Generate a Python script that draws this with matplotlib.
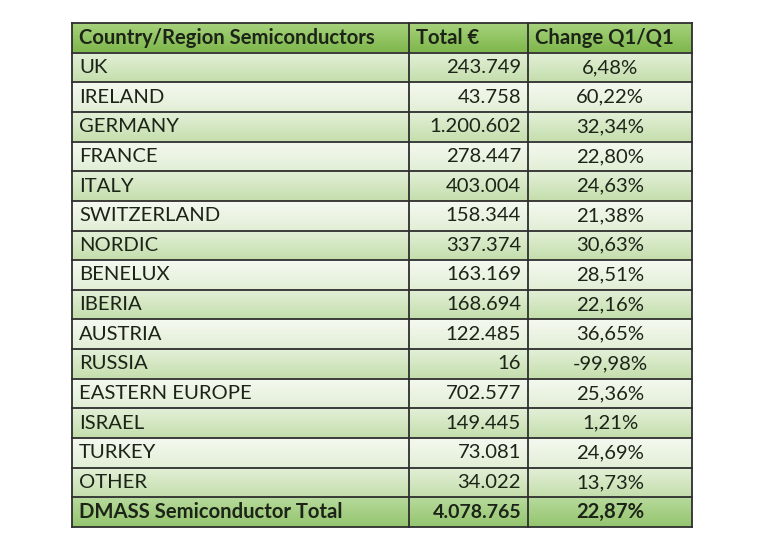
import matplotlib
matplotlib.use("Agg")
import matplotlib.pyplot as plt
import numpy as np
from matplotlib.colors import LinearSegmentedColormap

# ---- data ----
header = ["Country/Region Semiconductors", "Total €", "Change Q1/Q1"]
regions = ["UK", "IRELAND", "GERMANY", "FRANCE", "ITALY", "SWITZERLAND", "NORDIC",
           "BENELUX", "IBERIA", "AUSTRIA", "RUSSIA", "EASTERN EUROPE", "ISRAEL",
           "TURKEY", "OTHER"]
totals = [243749, 43758, 1200602, 278447, 403004, 158344, 337374, 163169,
          168694, 122485, 16, 702577, 149445, 73081, 34022]
changes = [6.48, 60.22, 32.34, 22.80, 24.63, 21.38, 30.63, 28.51, 22.16,
           36.65, -99.98, 25.36, 1.21, 24.69, 13.73]
total_label = "DMASS Semiconductor Total"
grand_total = 4078765
grand_change = 22.87


def fmt_num(v):
    return f"{v:,}".replace(",", ".")


def fmt_pct(v):
    return f"{v:.2f}%".replace(".", ",")


# ---- layout (pixels) ----
W, H = 768, 549
col_edges = [72, 409, 528, 692]
top, bottom = 23, 527
nrows = len(regions) + 2
row_h = (bottom - top) / nrows
pad = 7

plt.rcParams['font.family'] = ['Lato', 'DejaVu Sans']
fig = plt.figure(figsize=(W / 100, H / 100), dpi=100)
ax = fig.add_axes([0, 0, 1, 1])
ax.set_xlim(0, W)
ax.set_ylim(H, 0)
ax.axis("off")

grad = np.linspace(0, 1, 64).reshape(-1, 1)
styles = {
    "header": ("#a6d27c", "#7db64a"),
    "odd": ("#e3f0d8", "#c4deac"),
    "even": ("#f5f9f0", "#e2eed6"),
    "total": ("#b7da9c", "#94c56e"),
}


def fill_row(y0, kind):
    c0, c1 = styles[kind]
    cmap = LinearSegmentedColormap.from_list(kind, [c0, c1])
    ax.imshow(grad, cmap=cmap, aspect="auto", interpolation="bilinear",
              extent=[col_edges[0], col_edges[-1], y0 + row_h, y0], zorder=0)


fs = 14.6
fs_b = 14.6
txt_color = "#1c2418"

# header
y = top
fill_row(y, "header")
yc = y + row_h / 2
ax.text(col_edges[0] + pad, yc, header[0], ha="left", va="center", fontsize=fs_b,
        fontweight="bold", color=txt_color)
ax.text(col_edges[1] + pad, yc, header[1], ha="left", va="center", fontsize=fs_b,
        fontweight="bold", color=txt_color)
ax.text(col_edges[2] + pad, yc, header[2], ha="left", va="center", fontsize=fs_b,
        fontweight="bold", color=txt_color)

for i, (r, t, c) in enumerate(zip(regions, totals, changes)):
    y = top + (i + 1) * row_h
    fill_row(y, "odd" if i % 2 == 0 else "even")
    yc = y + row_h / 2
    ax.text(col_edges[0] + pad, yc, r, ha="left", va="center", fontsize=fs, color=txt_color)
    ax.text(col_edges[2] - pad, yc, fmt_num(t), ha="right", va="center", fontsize=fs, color=txt_color)
    ax.text((col_edges[2] + col_edges[3]) / 2, yc, fmt_pct(c), ha="center", va="center",
            fontsize=fs, color=txt_color)

y = top + (nrows - 1) * row_h
fill_row(y, "total")
yc = y + row_h / 2
ax.text(col_edges[0] + pad, yc, total_label, ha="left", va="center", fontsize=fs_b,
        fontweight="bold", color=txt_color)
ax.text(col_edges[2] - pad, yc, fmt_num(grand_total), ha="right", va="center", fontsize=14.0,
        fontweight="bold", color=txt_color)
ax.text((col_edges[2] + col_edges[3]) / 2, yc, fmt_pct(grand_change), ha="center", va="center",
        fontsize=fs_b, fontweight="bold", color=txt_color)

# grid lines
lc = "#2e2e2e"
for k in range(nrows + 1):
    yy = top + k * row_h
    ax.plot([col_edges[0], col_edges[-1]], [yy, yy], color=lc, lw=1.3, zorder=3,
            solid_capstyle="projecting")
for xx in col_edges:
    ax.plot([xx, xx], [top, bottom], color=lc, lw=1.3, zorder=3, solid_capstyle="projecting")

fig.savefig("out.png", dpi=100, facecolor="white")
